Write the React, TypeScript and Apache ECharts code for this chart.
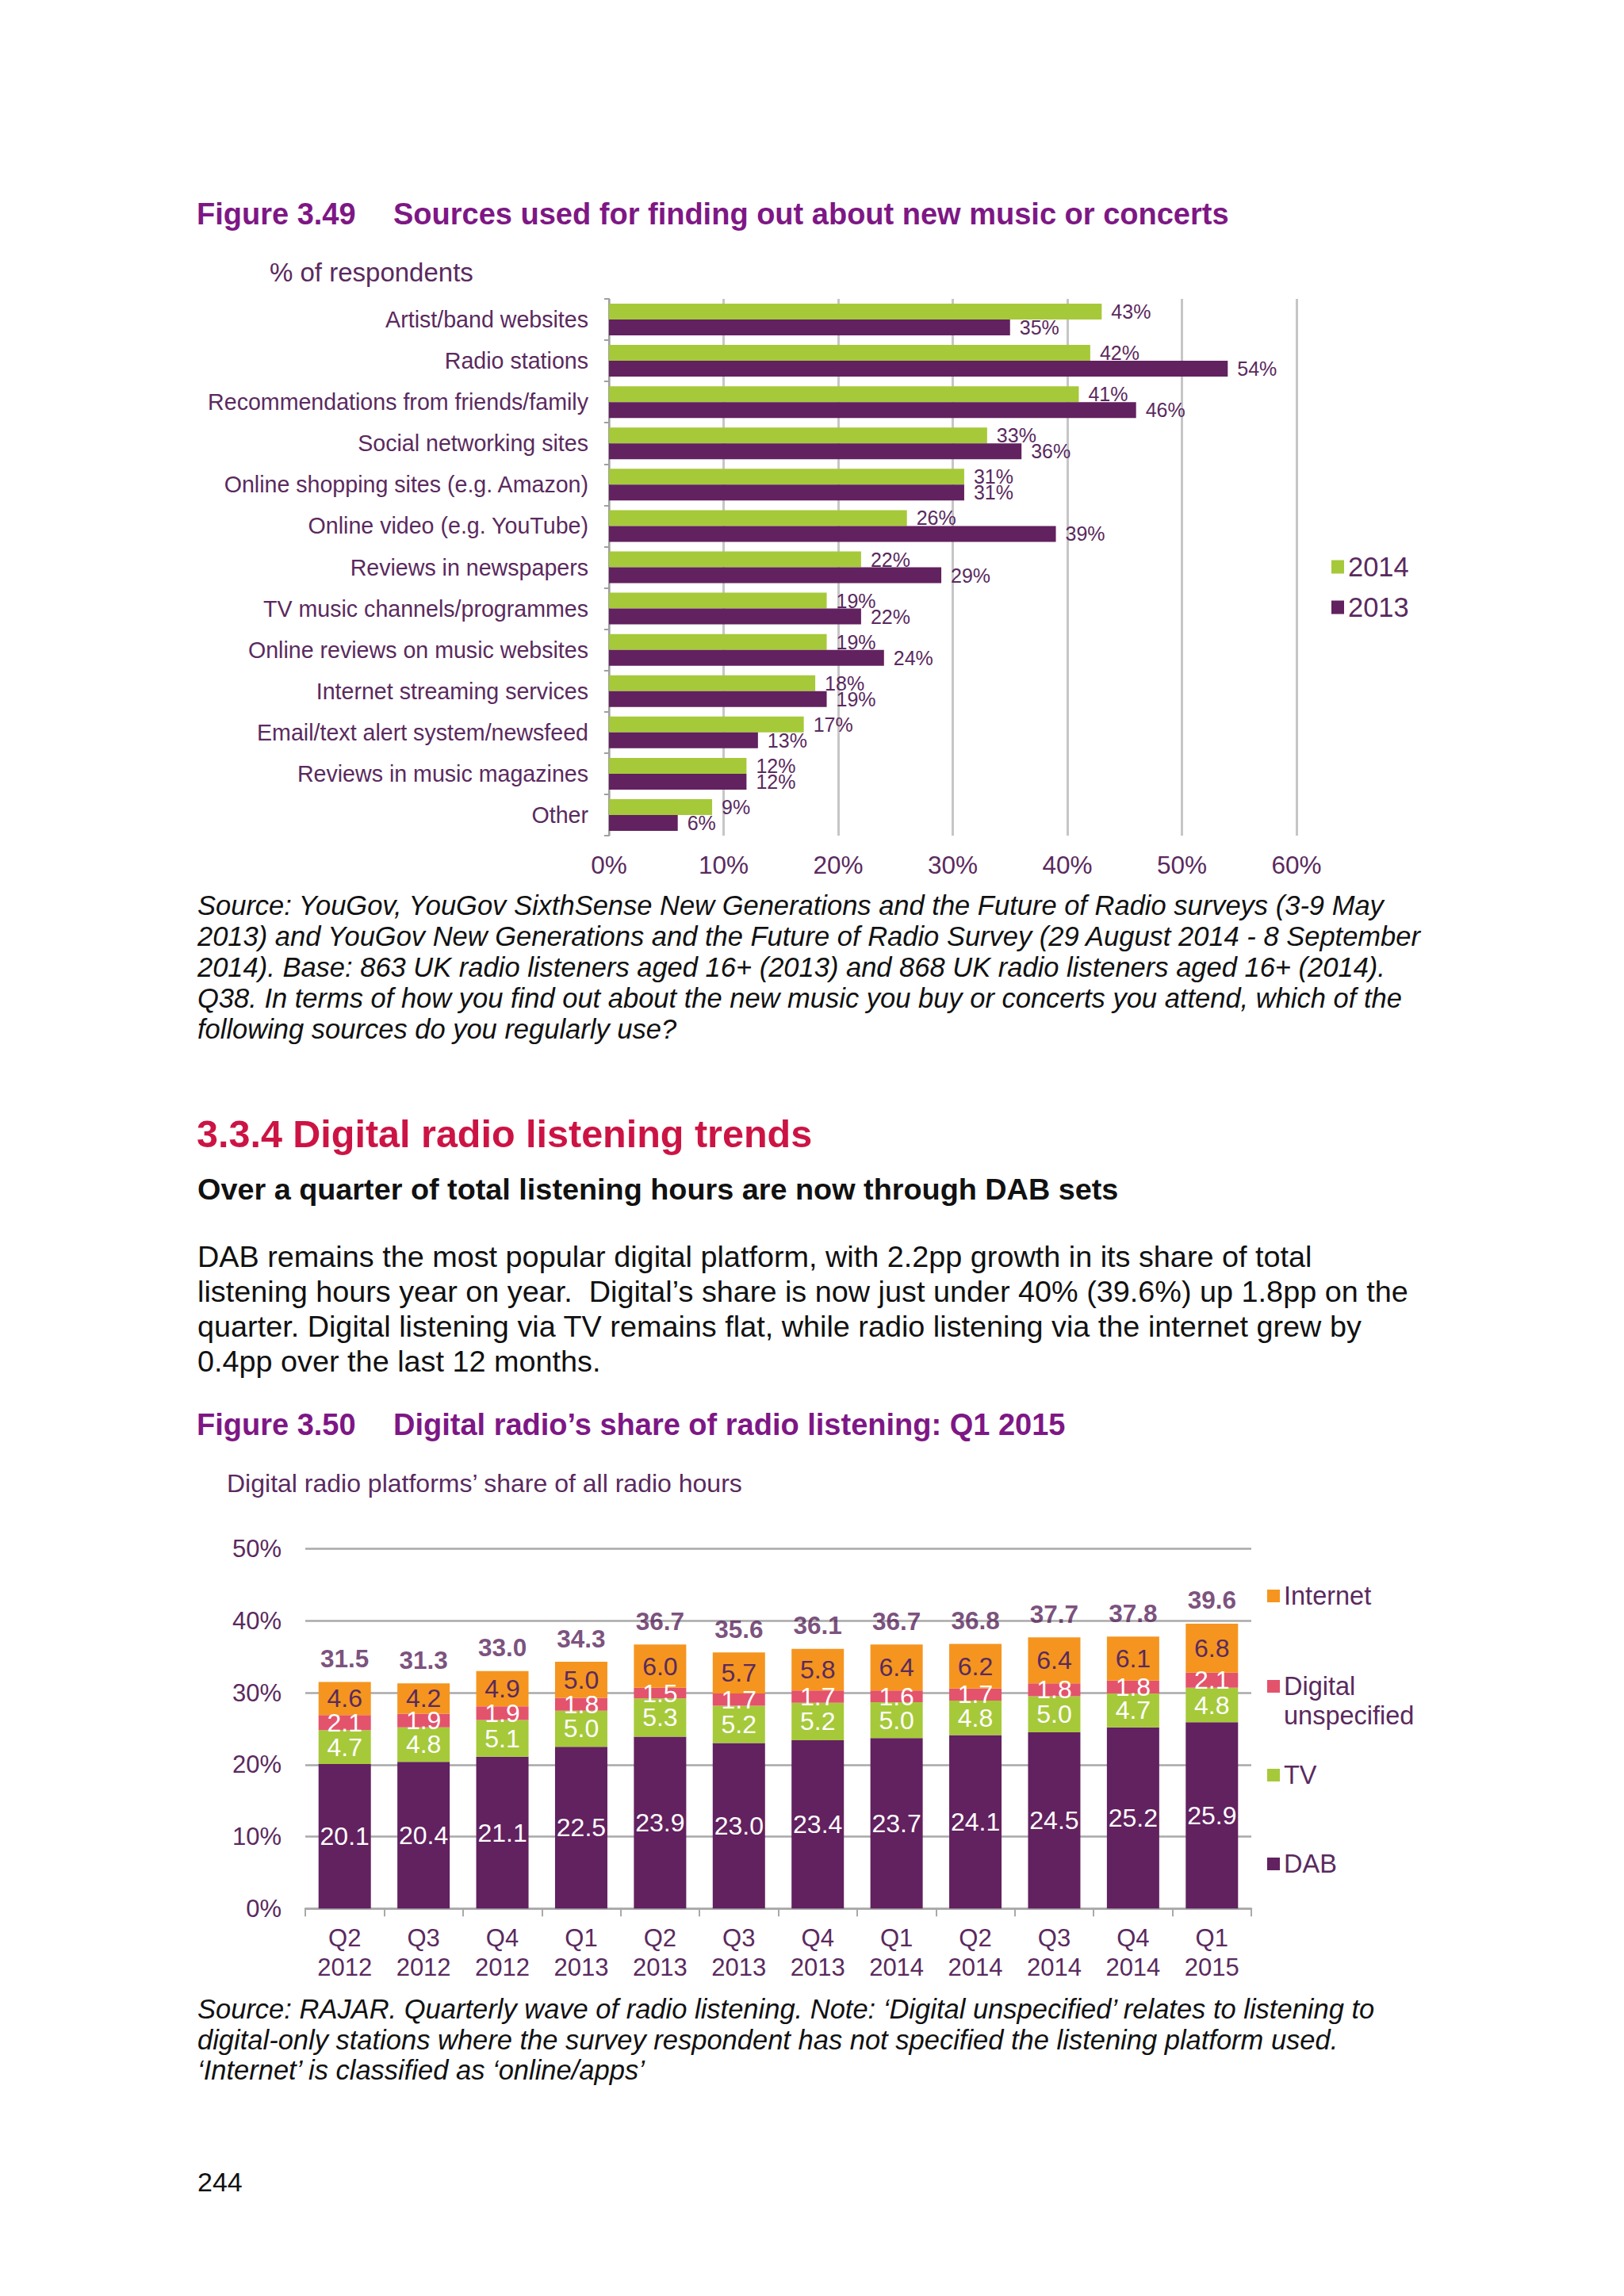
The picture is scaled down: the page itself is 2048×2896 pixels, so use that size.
import React, { useEffect, useRef } from 'react';
import * as echarts from 'echarts';

const FONT = '"Liberation Sans", Arial, Helvetica, sans-serif';
const PURPLE_TEXT = '#5a2a5e';
const TITLE = '#7e1785';
const GREEN = '#a6c93a';
const PURPLE = '#62215f';
const ORANGE = '#f5951f';
const PINK = '#e3536c';
const GRID_GREY = '#a9a9a9';

// Figure 3.49
const sourceCategories = [
  'Artist/band websites',
  'Radio stations',
  'Recommendations from friends/family',
  'Social networking sites',
  'Online shopping sites (e.g. Amazon)',
  'Online video (e.g. YouTube)',
  'Reviews in newspapers',
  'TV music channels/programmes',
  'Online reviews on music websites',
  'Internet streaming services',
  'Email/text alert system/newsfeed',
  'Reviews in music magazines',
  'Other',
];
const values2014 = [43, 42, 41, 33, 31, 26, 22, 19, 19, 18, 17, 12, 9];
const values2013 = [35, 54, 46, 36, 31, 39, 29, 22, 24, 19, 13, 12, 6];

// Figure 3.50
const quarters = [
  'Q2\n2012', 'Q3\n2012', 'Q4\n2012', 'Q1\n2013', 'Q2\n2013', 'Q3\n2013',
  'Q4\n2013', 'Q1\n2014', 'Q2\n2014', 'Q3\n2014', 'Q4\n2014', 'Q1\n2015',
];
const dab = [20.1, 20.4, 21.1, 22.5, 23.9, 23.0, 23.4, 23.7, 24.1, 24.5, 25.2, 25.9];
const tv = [4.7, 4.8, 5.1, 5.0, 5.3, 5.2, 5.2, 5.0, 4.8, 5.0, 4.7, 4.8];
const digitalUnspecified = [2.1, 1.9, 1.9, 1.8, 1.5, 1.7, 1.7, 1.6, 1.7, 1.8, 1.8, 2.1];
const internet = [4.6, 4.2, 4.9, 5.0, 6.0, 5.7, 5.8, 6.4, 6.2, 6.4, 6.1, 6.8];
const totals = [31.5, 31.3, 33.0, 34.3, 36.7, 35.6, 36.1, 36.7, 36.8, 37.7, 37.8, 39.6];

const source1 = [
  'Source: YouGov, YouGov SixthSense New Generations and the Future of Radio surveys (3-9 May',
  '2013) and YouGov New Generations and the Future of Radio Survey (29 August 2014 - 8 September',
  '2014). Base: 863 UK radio listeners aged 16+ (2013) and 868 UK radio listeners aged 16+ (2014).',
  'Q38. In terms of how you find out about the new music you buy or concerts you attend, which of the',
  'following sources do you regularly use?',
];
const paragraph = [
  'DAB remains the most popular digital platform, with 2.2pp growth in its share of total',
  'listening hours year on year.  Digital\u2019s share is now just under 40% (39.6%) up 1.8pp on the',
  'quarter. Digital listening via TV remains flat, while radio listening via the internet grew by',
  '0.4pp over the last 12 months.',
];
const source2 = [
  'Source: RAJAR. Quarterly wave of radio listening. Note: \u2018Digital unspecified\u2019 relates to listening to',
  'digital-only stations where the survey respondent has not specified the listening platform used.',
  '\u2018Internet\u2019 is classified as \u2018online/apps\u2019',
];

function txt(x: number, y: number, text: string, size: number, fill: string, weight = 'normal', style = 'normal') {
  return {
    type: 'text',
    x,
    y,
    silent: true,
    style: {
      text,
      fill,
      font: `${style} ${weight} ${size}px ${FONT}`,
      align: 'left',
      verticalAlign: 'middle',
      textAlign: 'left',
      textVerticalAlign: 'middle',
    },
  };
}

function buildOption() {
  const graphics: any[] = [];
  graphics.push(txt(248, 270, 'Figure 3.49', 38, TITLE, 'bold'));
  graphics.push(txt(496, 270, 'Sources used for finding out about new music or concerts', 38, TITLE, 'bold'));
  graphics.push(txt(340, 343, '% of respondents', 33, PURPLE_TEXT));
  const s1y = [1142, 1181, 1220, 1259, 1298];
  source1.forEach((l, i) => graphics.push(txt(249, s1y[i], l, 34.5, '#111', 'normal', 'italic')));
  graphics.push(txt(248, 1430, '3.3.4 Digital radio listening trends', 48.5, '#cc1444', 'bold'));
  graphics.push(txt(249, 1500, 'Over a quarter of total listening hours are now through DAB sets', 37.8, '#111', 'bold'));
  const py = [1585, 1629, 1673, 1717];
  paragraph.forEach((l, i) => graphics.push(txt(249, py[i], l, 37.8, '#111')));
  graphics.push(txt(248, 1797, 'Figure 3.50', 38, TITLE, 'bold'));
  graphics.push(txt(496, 1797, 'Digital radio\u2019s share of radio listening: Q1 2015', 38, TITLE, 'bold'));
  graphics.push(txt(286, 1871, 'Digital radio platforms\u2019 share of all radio hours', 32, PURPLE_TEXT));
  const s2y = [2534, 2573, 2611];
  source2.forEach((l, i) => graphics.push(txt(249, s2y[i], l, 34.5, '#111', 'normal', 'italic')));
  graphics.push(txt(249, 2752, '244', 34, '#111'));

  const legendText = { fontFamily: FONT, color: PURPLE_TEXT, fontSize: 32.5, lineHeight: 37 };

  return {
    animation: false,
    backgroundColor: '#ffffff',
    textStyle: { fontFamily: FONT },
    graphic: graphics,
    legend: [
      {
        data: ['2014', '2013'],
        orient: 'vertical',
        left: 1679,
        top: 696.5,
        padding: 0,
        itemWidth: 16,
        itemHeight: 17,
        itemGap: 14,
        icon: 'rect',
        textStyle: { ...legendText, fontSize: 34.5 },
        selectedMode: false,
      },
      {
        data: ['Internet'], left: 1598, top: 1994.5, padding: 0, itemWidth: 16, itemHeight: 16,
        icon: 'rect', textStyle: legendText, selectedMode: false,
      },
      {
        data: ['Digital unspecified'], left: 1598, top: 2071.5, padding: 0, itemWidth: 16, itemHeight: 16,
        icon: 'rect', selectedMode: false,
        formatter: (name: string) => '\n' + name.replace(' ', '\n'),
        textStyle: legendText,
      },
      {
        data: ['TV'], left: 1598, top: 2220.5, padding: 0, itemWidth: 16, itemHeight: 16,
        icon: 'rect', textStyle: legendText, selectedMode: false,
      },
      {
        data: ['DAB'], left: 1598, top: 2332.5, padding: 0, itemWidth: 16, itemHeight: 16,
        icon: 'rect', textStyle: legendText, selectedMode: false,
      },
    ],
    grid: [
      { left: 768, top: 377, width: 867, height: 677, containLabel: false },
      { left: 385, top: 1953.6, width: 1193, height: 453.7, containLabel: false },
    ],
    xAxis: [
      {
        type: 'value',
        gridIndex: 0,
        min: 0,
        max: 60,
        interval: 10,
        axisLine: { show: false },
        axisTick: { show: false },
        axisLabel: { formatter: '{value}%', fontSize: 31.5, color: PURPLE_TEXT, margin: 21, fontFamily: FONT },
        splitLine: { show: true, lineStyle: { color: '#c6c6c6', width: 3 } },
      },
      {
        type: 'category',
        gridIndex: 1,
        data: quarters,
        axisLine: { show: true, lineStyle: { color: GRID_GREY, width: 2.5 } },
        axisTick: { show: true, alignWithLabel: false, length: 10, lineStyle: { color: GRID_GREY, width: 2 } },
        axisLabel: { fontSize: 31, lineHeight: 37, color: PURPLE_TEXT, margin: 19, fontFamily: FONT },
      },
    ],
    yAxis: [
      {
        type: 'category',
        gridIndex: 0,
        data: sourceCategories,
        inverse: true,
        axisLine: { show: true, lineStyle: { color: '#a0a0a0', width: 2 } },
        axisTick: { show: true, length: 6, lineStyle: { color: '#a0a0a0', width: 2 } },
        axisLabel: { fontSize: 28.6, color: PURPLE_TEXT, margin: 26, fontFamily: FONT },
      },
      {
        type: 'value',
        gridIndex: 1,
        min: 0,
        max: 50,
        interval: 10,
        axisLine: { show: false },
        axisTick: { show: false },
        axisLabel: { formatter: '{value}%', fontSize: 31, color: PURPLE_TEXT, margin: 30, fontFamily: FONT },
        splitLine: { show: true, lineStyle: { color: GRID_GREY, width: 2.5 } },
      },
    ],
    series: [
      {
        name: '2014',
        type: 'bar',
        xAxisIndex: 0,
        yAxisIndex: 0,
        data: values2014,
        barWidth: 20,
        barGap: '0%',
        itemStyle: { color: GREEN },
        label: { show: true, position: 'right', distance: 12, formatter: '{c}%', fontSize: 25, color: PURPLE_TEXT, fontFamily: FONT },
      },
      {
        name: '2013',
        type: 'bar',
        xAxisIndex: 0,
        yAxisIndex: 0,
        data: values2013,
        barWidth: 20,
        barGap: '0%',
        itemStyle: { color: PURPLE },
        label: { show: true, position: 'right', distance: 12, formatter: '{c}%', fontSize: 25, color: PURPLE_TEXT, fontFamily: FONT },
      },
      ...[
        { name: 'DAB', data: dab, color: PURPLE, labelColor: '#ffffff' },
        { name: 'TV', data: tv, color: GREEN, labelColor: '#ffffff' },
        { name: 'Digital unspecified', data: digitalUnspecified, color: PINK, labelColor: '#ffffff' },
        { name: 'Internet', data: internet, color: ORANGE, labelColor: PURPLE_TEXT },
      ].map((s) => ({
        name: s.name,
        type: 'bar',
        xAxisIndex: 1,
        yAxisIndex: 1,
        stack: 'digital',
        data: s.data,
        barWidth: 66,
        itemStyle: { color: s.color },
        label: {
          show: true,
          position: 'inside',
          color: s.labelColor,
          fontSize: 32,
          fontFamily: FONT,
          formatter: (p: any) => Number(p.value).toFixed(1),
        },
      })),
      {
        name: 'Total',
        type: 'scatter',
        xAxisIndex: 1,
        yAxisIndex: 1,
        data: totals,
        symbolSize: 1,
        itemStyle: { color: 'rgba(0,0,0,0)' },
        label: {
          show: true,
          position: 'top',
          distance: 13,
          color: '#58245b',
          fontSize: 31.5,
          fontWeight: 'bold',
          fontFamily: FONT,
          formatter: (p: any) => Number(p.value).toFixed(1),
        },
        z: 10,
      },
    ],
  };
}

export default function App() {
  const ref = useRef<HTMLDivElement>(null);
  useEffect(() => {
    if (!ref.current) return;
    const chart = echarts.init(ref.current, null, { renderer: 'svg' });
    chart.setOption(buildOption() as any);
    return () => chart.dispose();
  }, []);
  return (
    <div
      ref={ref}
      style={{ position: 'absolute', left: 0, top: 0, width: 2048, height: 2896, background: '#ffffff' }}
    />
  );
}
